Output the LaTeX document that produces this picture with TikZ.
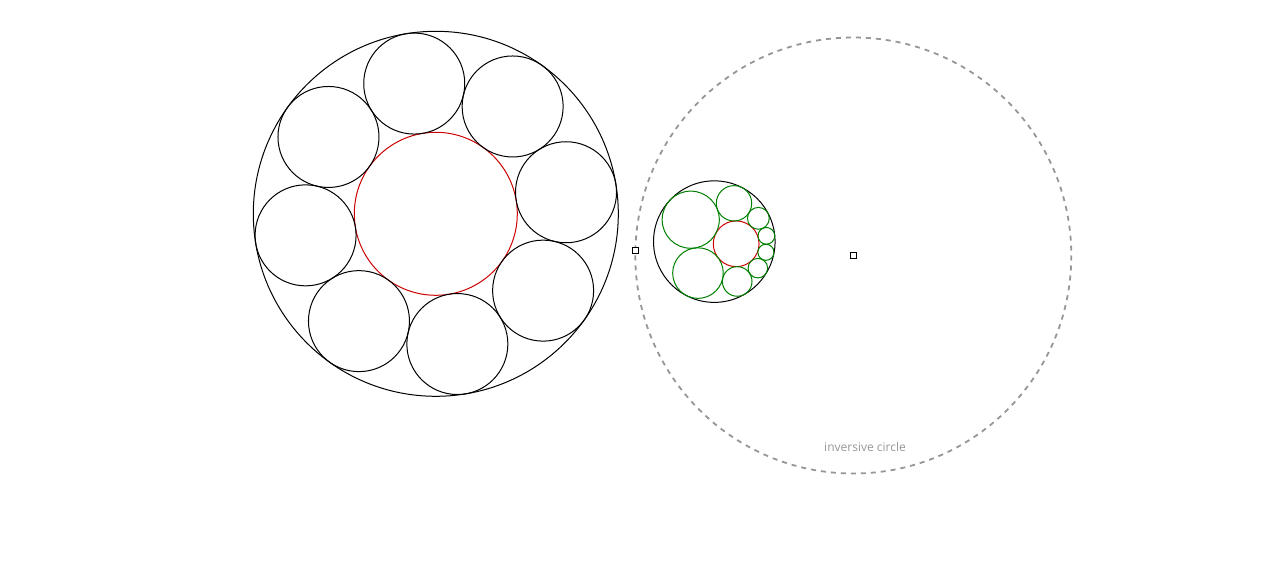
\documentclass[tikz,border=0pt]{standalone}
\usepackage{fontspec}
\setmainfont{Open Sans}
\definecolor{invgray}{RGB}{150,150,150}
\definecolor{chainred}{RGB}{204,0,0}
\definecolor{chaingreen}{RGB}{0,128,0}
\newcommand\invcircle[4]{%
  \pgfmathsetmacro\dxx{(#2-\Ox)/100}%
  \pgfmathsetmacro\dyy{(#3-\Oy)/100}%
  \pgfmathsetmacro\sfac{(\K/100)^2/(\dxx*\dxx+\dyy*\dyy-(#4/100)^2)}%
  \pgfmathsetmacro\rinv{abs(\sfac)*#4}%
  \pgfmathsetmacro\cxinv{\Ox+100*\sfac*\dxx}%
  \pgfmathsetmacro\cyinv{\Oy+100*\sfac*\dyy}%
  \draw[#1] (\cxinv,\cyinv) circle[radius=\rinv];%
}
\begin{document}
\begin{tikzpicture}[x=1pt,y=-1pt,
  outerc/.style={draw=black,line width=1pt},
  innerc/.style={draw=chainred,line width=1pt},
  chainc/.style={draw=black,line width=1pt},
  chaininv/.style={draw=chaingreen,line width=1pt},
  invc/.style={draw=invgray,line width=1.8pt,dash pattern=on 5pt off 5pt},
  sq/.style={draw=black,fill=white,line width=1pt,inner sep=0pt,minimum size=6pt},
  lab/.style={text=invgray,font=\fontsize{12}{14}\selectfont,anchor=base}]
\useasboundingbox (0,0) rectangle (1270,577);
\def\Cx{435.8}\def\Cy{213.8}
\def\Ox{853.3}\def\Oy{255.5}\def\K{218}
% original Steiner chain
\draw[outerc] (\Cx,\Cy) circle[radius=182.5];
\draw[innerc] (\Cx,\Cy) circle[radius=81.5];
\foreach \i in {0,...,7} {
  \pgfmathsetmacro\ang{99.4-45*\i}
  \pgfmathsetmacro\px{\Cx+132*cos(\ang)}
  \pgfmathsetmacro\py{\Cy-132*sin(\ang)}
  \draw[chainc] (\px,\py) circle[radius=50.5];
}
% inversive circle
\draw[invc] (\Ox,\Oy) circle[radius=\K];
% inverted chain
\invcircle{outerc}{\Cx}{\Cy}{182.5}
\invcircle{innerc}{\Cx}{\Cy}{81.5}
\foreach \i in {0,...,7} {
  \pgfmathsetmacro\ang{99.4-45*\i}
  \pgfmathsetmacro\px{\Cx+132*cos(\ang)}
  \pgfmathsetmacro\py{\Cy-132*sin(\ang)}
  \invcircle{chaininv}{\px}{\py}{50.5}
}
\node[sq] (p) at (635.3,251) {};
\node[sq] (o) at (\Ox,\Oy) {};
\node[lab] (l) at (865,451.5) {inversive circle};
\end{tikzpicture}
\end{document}
